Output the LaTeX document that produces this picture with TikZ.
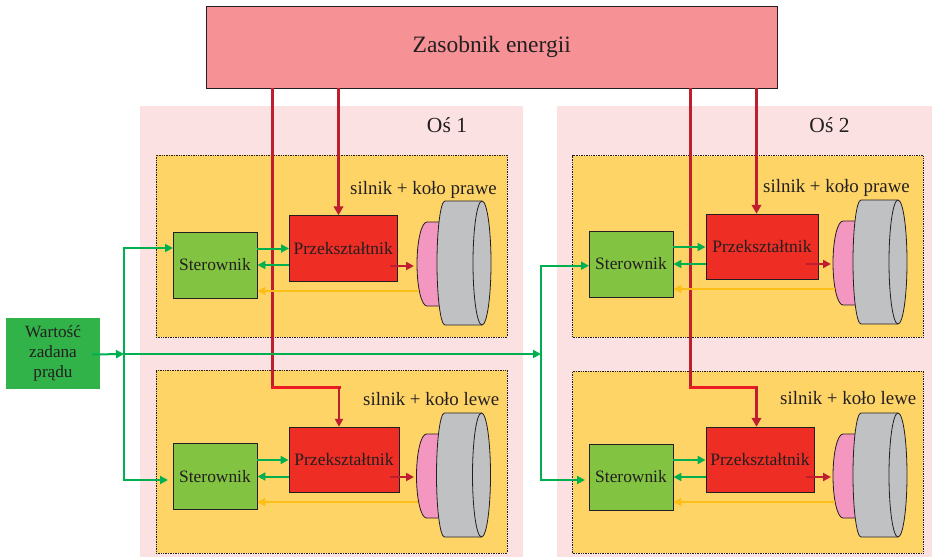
\documentclass[tikz,border=0pt]{standalone}
\usepackage{fontspec}
\setmainfont{Liberation Serif}
\usetikzlibrary{arrows.meta}
\definecolor{panelc}{HTML}{FCE1E2}
\definecolor{yellowc}{HTML}{FFD467}
\definecolor{stc}{HTML}{82C341}
\definecolor{prc}{HTML}{EE2D24}
\definecolor{pinkc}{HTML}{F497C0}
\definecolor{grayc}{HTML}{C0C1C3}
\definecolor{srcc}{HTML}{32B34A}
\definecolor{topc}{HTML}{F69296}
\definecolor{dredc}{HTML}{BE1E2D}
\definecolor{bredc}{HTML}{ED1C24}
\definecolor{agreen}{HTML}{00B050}
\definecolor{ayellow}{HTML}{FDBE16}
\definecolor{inkc}{HTML}{231F20}
\tikzset{
  panelbox/.style={fill=panelc,draw=none,inner sep=0pt},
  unitbox/.style={fill=yellowc,draw=inkc,densely dotted,line width=0.7pt,inner sep=0pt},
  stbox/.style={fill=stc,draw=inkc,line width=0.9pt,inner sep=0pt,text=inkc,font=\fontsize{17.4}{20}\selectfont,minimum width=84pt,minimum height=66pt},
  prbox/.style={fill=prc,draw=inkc,line width=0.9pt,inner sep=0pt,text=inkc,font=\fontsize{17.5}{20}\selectfont,minimum height=65.5pt},
  label/.style={text=inkc,inner sep=0pt,anchor=base west,font=\fontsize{18.9}{22}\selectfont},
  axis/.style={text=inkc,inner sep=0pt,font=\fontsize{21.5}{25}\selectfont},
  redthick/.style={draw=dredc,line width=3pt,-{Triangle[length=9pt,width=9.5pt]}},
  redthin/.style={draw=dredc,line width=2pt,-{Triangle[length=8pt,width=8pt]}},
  gr/.style={draw=agreen,line width=2pt,-{Triangle[length=8pt,width=8pt]}},
  ye/.style={draw=ayellow,line width=1.5pt,-{Triangle[length=8pt,width=8pt]}},
  motorline/.style={draw=inkc,line width=0.8pt},
}
\newcommand{\motor}[2]{%
  \begin{scope}[shift={(#1,#2)}]
    \path[fill=pinkc,motorline] (447,222) -- (427,222) arc[start angle=270,end angle=90,x radius=10,y radius=42] -- (447,306) -- cycle;
    \path[fill=grayc,motorline] (482,201) -- (445,201) arc[start angle=270,end angle=90,x radius=8,y radius=62] -- (482,325);
    \path[fill=grayc,motorline] (482,263) ellipse[x radius=9,y radius=62];
  \end{scope}}
\begin{document}
\begin{tikzpicture}[x=1pt,y=-1pt]
\useasboundingbox (0,0) rectangle (932,557);
% panels
\node[panelbox,minimum width=383.5pt,minimum height=451pt] (p1) at (331.25,331.5) {};
\node[panelbox,minimum width=375.5pt,minimum height=451pt] (p2) at (744.25,331.5) {};
\node[axis] (t1) at (447,125) {Oś 1};
\node[axis] (t2) at (829.5,125) {Oś 2};
% units
\node[unitbox,minimum width=351pt,minimum height=182pt] (u1) at (331.5,246) {};
\node[unitbox,minimum width=351pt,minimum height=183pt] (u2) at (331.5,461.5) {};
\node[unitbox,minimum width=350.5pt,minimum height=181.5pt] (u3) at (747.9,246.3) {};
\node[unitbox,minimum width=350.5pt,minimum height=182pt] (u4) at (747.9,462) {};
\node[label] (l1) at (350,194) {silnik + koło prawe};
\node[label] (l2) at (363,405) {silnik + koło lewe};
\node[label] (l3) at (763,192) {silnik + koło prawe};
\node[label] (l4) at (780,404) {silnik + koło lewe};
% top box
\node[fill=topc,draw=inkc,line width=0.9pt,inner sep=0pt,minimum width=570.5pt,minimum height=82pt,text=inkc,font=\fontsize{23.5}{28}\selectfont] (top) at (491.75,47) {Zasobnik energii};
% source
\node[fill=srcc,inner sep=0pt,minimum width=94pt,minimum height=71pt,align=center,text=inkc,font=\fontsize{17.2}{20}\selectfont] (src) at (53,353.5) {Wartość\\zadana\\prądu};
% controllers and converters
\node[stbox] (st1) at (215,265) {Sterownik};
\node[stbox] (st2) at (215,476.5) {Sterownik};
\node[stbox] (st3) at (631,264) {Sterownik};
\node[stbox] (st4) at (631,477) {Sterownik};
\node[prbox,minimum width=107.5pt] (pr1) at (343.25,248.5) {Przekształtnik};
\node[prbox,minimum width=110pt] (pr2) at (344,460) {Przekształtnik};
\node[prbox,minimum width=112pt] (pr3) at (762,247) {Przekształtnik};
\node[prbox,minimum width=108pt] (pr4) at (760,460) {Przekształtnik};
% motors
\motor{0}{0}
\motor{-0.5}{212}
\motor{416}{-1}
\motor{416}{212}
% named ends
\coordinate (r1a) at (272.5,88); \coordinate (r1b) at (338.5,88);
\coordinate (r2a) at (690,88);   \coordinate (r2b) at (756.5,88);
\coordinate (j1) at (124,354); \coordinate (j2) at (541,354);
\coordinate (s0) at (92,354.5);
\coordinate (i1) at (173,248);   \coordinate (i2) at (168,480);
\coordinate (i3) at (589,265.7); \coordinate (i4) at (585,480);
\coordinate (m1) at (414,266);   \coordinate (m2) at (414,477);
\coordinate (m3) at (831,264);   \coordinate (m4) at (831,477);
\coordinate (rs1) at (390,266);  \coordinate (rs2) at (390,477);
\coordinate (rs3) at (806,264);  \coordinate (rs4) at (806,477);
\coordinate (y1) at (418,291);   \coordinate (y2) at (418,502);
\coordinate (y3) at (835,289);   \coordinate (y4) at (835,502);
% red supply lines
\draw[redthick] (r1b) -- (r1b |- pr1.north);
\draw[redthick] (r2b) -- (r2b |- pr3.north);
\coordinate (b1) at (272.5,387); \coordinate (b2) at (690,387);
\coordinate (c1) at (339,387);   \coordinate (c2) at (756.5,387);
\draw[draw=dredc,line width=3pt] (r1a) -- (b1);
\draw[draw=dredc,line width=3pt] (r2a) -- (b2);
\draw[draw=bredc,line width=3pt,line cap=rect] (b1) -- (c1);
\draw[draw=bredc,line width=3pt,line cap=rect] (b2) -- (c2);
\draw[redthin] (c1) -- (c1 |- pr2.north);
\draw[redthick] (c2) -- (c2 |- pr4.north);
% green inputs
\draw[gr] (s0) -- (j1);
\draw[gr] (j1) -- (j2);
\draw[gr] (j1) |- (i1);
\draw[gr] (j1) |- (i2);
\draw[gr] (j2) |- (i3);
\draw[gr] (j2) |- (i4);
% controller links
\foreach \n in {1,2,3,4}{
  \draw[gr] (st\n.east |- pr\n.west) -- (pr\n.west);
  \draw[gr] (pr\n.west |- st\n.east) -- (st\n.east);
  \draw[redthin] (rs\n) -- (m\n);
  \draw[ye] (y\n) -- (st\n.east |- y\n);
}
\end{tikzpicture}
\end{document}
